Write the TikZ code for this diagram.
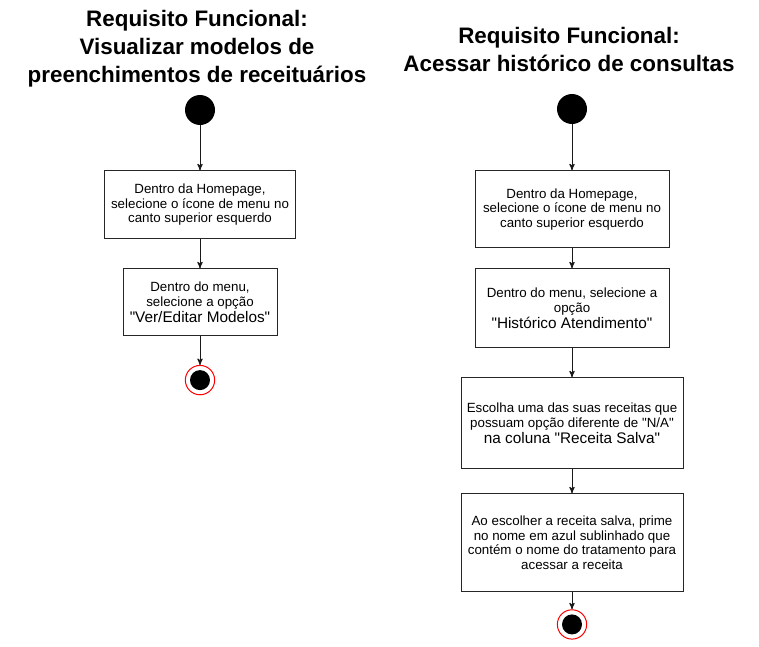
\documentclass[tikz,border=0pt]{standalone}
\usepackage{fontspec}
\setmainfont{Liberation Sans}[Ligatures=TeXOff]
\usepackage{tikz}
\usetikzlibrary{arrows, positioning}
\newcommand{\bigline}[1]{{\fontsize{11.5}{13}\selectfont #1}}
\tikzset{
  activity/.style={draw=black!85, line width=0.75pt, align=center,
                   font=\fontsize{10}{11}\selectfont, inner sep=2pt},
  title/.style={align=center, inner sep=0pt,
                font=\bfseries\fontsize{16.8}{21}\selectfont},
  flow/.style={-stealth', line width=0.75pt, draw=black!90},
}

\begin{document}
\begin{tikzpicture}[x=0.75pt, y=-0.75pt, >=stealth',
    initstate/.style={circle, fill=black, minimum size=22.5pt, inner sep=0pt},
    finalstate/.style={circle, draw=red, fill=white, line width=0.75pt,
                       minimum size=22pt, inner sep=0pt,
                       path picture={\fill[black] (path picture bounding box.center) circle (7.5pt);}}]
  \useasboundingbox (0,0) rectangle (759,646);

  % left column
  \node[title] (titleleft) at (197,48.5)
    {Requisito Funcional:\\Visualizar modelos de\\preenchimentos de receituários};
  \node[initstate] (startleft) at (200,110) {};
  \node[activity, minimum width=143pt, minimum height=51pt, below=33.75pt of startleft]
    (homeleft) {Dentro da Homepage,\\selecione o ícone de menu no\\canto superior esquerdo};
  \node[activity, minimum width=115.5pt, minimum height=50pt, below=21.75pt of homeleft]
    (menuleft) {Dentro do menu,\\selecione a opção\\[1pt]\bigline{"Ver/Editar Modelos"}};
  \node[finalstate, below=21.75pt of menuleft] (endleft) {};

  \draw[flow] (startleft) -- (homeleft);
  \draw[flow] (homeleft) -- (menuleft);
  \draw[flow] (menuleft) -- (endleft);

  % right column
  \node[title] (titleright) at (569,49.5)
    {Requisito Funcional:\\Acessar histórico de consultas};
  \node[initstate] (startright) at (572,109) {};
  \node[activity, minimum width=145.5pt, minimum height=57.75pt, below=34.5pt of startright]
    (homeright) {Dentro da Homepage,\\selecione o ícone de menu no\\canto superior esquerdo};
  \node[activity, minimum width=145.5pt, minimum height=59.25pt, below=15pt of homeright]
    (menuright) {Dentro do menu, selecione a\\opção\\[1pt]\bigline{"Histórico Atendimento"}};
  \node[activity, minimum width=166.5pt, minimum height=68.25pt, below=21.75pt of menuright]
    (choose) {Escolha uma das suas receitas que\\possuam opção diferente de "N/A"\\[1pt]\bigline{na coluna "Receita Salva"}};
  \node[activity, minimum width=166.5pt, minimum height=73.5pt, below=18pt of choose]
    (open) {Ao escolher a receita salva, prime\\no nome em azul sublinhado que\\contém o nome do tratamento para\\acessar a receita};
  \node[finalstate, below=12.75pt of open] (endright) {};

  \draw[flow] (startright) -- (homeright);
  \draw[flow] (homeright) -- (menuright);
  \draw[flow] (menuright) -- (choose);
  \draw[flow] (choose) -- (open);
  \draw[flow] (open) -- (endright);
\end{tikzpicture}
\end{document}
